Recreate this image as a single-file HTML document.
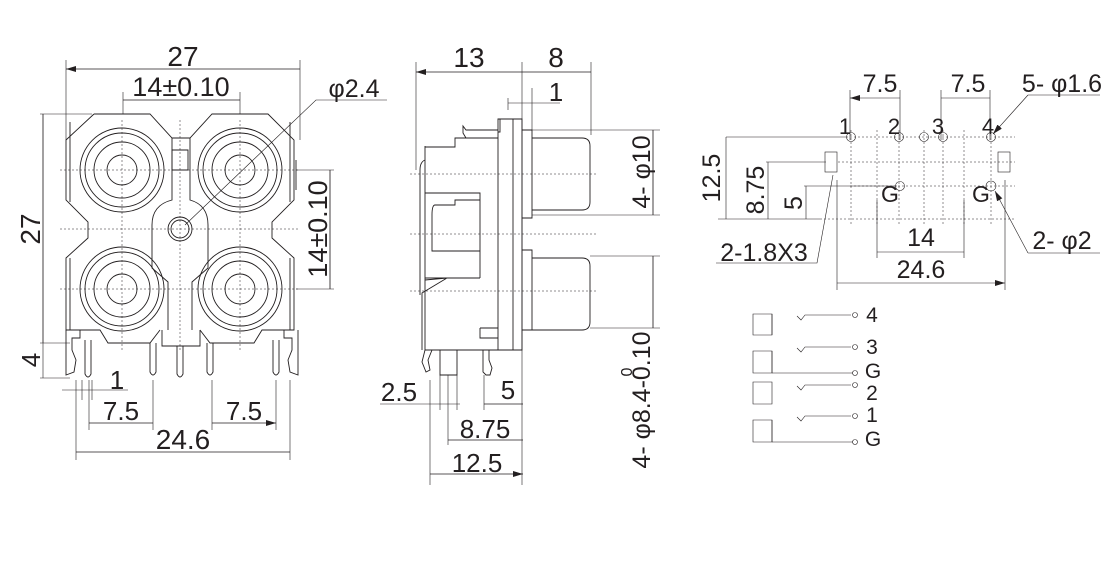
<!DOCTYPE html>
<html><head><meta charset="utf-8"><style>
html,body{margin:0;padding:0;background:#fff;}
svg{display:block;}
text{font-family:"Liberation Sans",sans-serif;fill:#231f20;}
</style></head><body>
<svg width="1120" height="582" viewBox="0 0 1120 582" xmlns="http://www.w3.org/2000/svg">
<defs>
<marker id="a" viewBox="0 0 10 6" refX="10" refY="3" markerWidth="10" markerHeight="6" orient="auto-start-reverse" markerUnits="userSpaceOnUse"><path d="M0,0 L10,3 L0,6z" fill="#231f20"/></marker>
</defs>
<g fill="none" stroke="#231f20" stroke-width="0.9">
<path d="M66,60 V140 M300,60 V140 M123,92 V114 M240,92 V114 M40,114 H92 M40,343 H70 M40,378 H70 M296,170 H334 M296,289 H334 M76,380 V460 M290,380 V460 M89,380 V430 M153,380 V430 M212,380 V430 M276,380 V430 M82,380 V400 M92,380 V400" stroke-width="0.6"/>
<path d="M66,69 H300 M123,100 H240 M43,114 V343 M43,343 V378 M330,170 V289 M62,390 H128 M89,423 H153 M212,423 H276 M76,452 H290" stroke-width="0.6"/>
<path d="M387,100 H316 L185,225" stroke-width="0.6"/>
<g stroke-dasharray="2,2" stroke-width="0.5">
<path d="M60,170 H300 M60,229 H300 M60,289 H300 M122,120 V350 M240,120 V350 M180,120 V350"/>
</g>
<path d="M94,114 H150 L172,138 H190 L212,114 H268 L294,140 V200 L272,222 V238 L294,258 V330 L283,330 M94,114 L66,140 V200 L88,222 V238 L66,258 V330 L80,330 M80,330 H100 L108,343 H150 L160,330 M200,330 L210,343 H254 L262,330 H283"/>
<path d="M70,122 V202 M290,122 V202 M70,258 V330 M290,258 V330 M296,160 V190"/>
<path d="M172,138 V200 Q152,205 152,225 V268 L168,282 V330 M190,138 V200 Q208,205 208,225 V268 L192,282 V330 M162,330 V346 H200 V330"/>
<path d="M172,150 H188 V170 H172z"/>
<circle cx="180" cy="229" r="12"/><circle cx="180" cy="229" r="9"/>
<g>
<circle cx="122" cy="170" r="42"/><circle cx="122" cy="170" r="37"/><circle cx="122" cy="170" r="28"/><circle cx="122" cy="170" r="15"/>
<circle cx="240" cy="170" r="42"/><circle cx="240" cy="170" r="37"/><circle cx="240" cy="170" r="28"/><circle cx="240" cy="170" r="15"/>
<circle cx="122" cy="289" r="42"/><circle cx="122" cy="289" r="37"/><circle cx="122" cy="289" r="28"/><circle cx="122" cy="289" r="15"/>
<circle cx="240" cy="289" r="42"/><circle cx="240" cy="289" r="37"/><circle cx="240" cy="289" r="28"/><circle cx="240" cy="289" r="15"/>
</g>
<path d="M85,340 V374 Q88,380 91,374 V340 M150,343 V372 Q153,378 156,372 V343 M177,346 V374 Q180,380 183,374 V346 M207,343 V372 Q210,378 213,372 V343 M273,340 V372 Q276,378 279,372 V340"/>
<path d="M66,330 V375 L74,372 L76,360 L72,350 V338 H80 V330 M298,330 V375 L290,372 L288,360 L292,350 V338 H284 V330"/>
</g>
<g fill="#231f20">
<text x="183" y="66" font-size="28" text-anchor="middle">27</text>
<text x="181" y="96" font-size="27" text-anchor="middle">14±0.10</text>
<text x="354" y="97" font-size="25" text-anchor="middle">φ2.4</text>
<text transform="translate(40,229) rotate(-90)" font-size="28" text-anchor="middle">27</text>
<text transform="translate(40,360) rotate(-90)" font-size="26" text-anchor="middle">4</text>
<text transform="translate(327,229) rotate(-90)" font-size="27" text-anchor="middle">14±0.10</text>
<text x="117" y="389" font-size="26" text-anchor="middle">1</text>
<text x="121" y="420" font-size="26" text-anchor="middle">7.5</text>
<text x="244" y="420" font-size="26" text-anchor="middle">7.5</text>
<text x="183" y="449" font-size="28" text-anchor="middle">24.6</text>
</g>
<g stroke="#231f20" stroke-width="0.6" fill="none">
<path d="M66,69 H300 M123,100 H240 M43,114 V343 M330,170 V289 M76,452 H290 M89,423 H153 M212,423 H276" marker-start="url(#a)" marker-end="url(#a)"/>
</g>

<g fill="none" stroke="#231f20" stroke-width="0.9">
<path d="M416,62 V170 M522,62 V485 M591,62 V135 M532,88 V130 M508,98 V110 M532,130 H660 M532,215 H660 M590,256 H660 M590,328 H660 M430,380 V485 M448,375 V445 M484,375 V410 M440,375 V410 M457,375 V410" stroke-width="0.6"/>
<path d="M416,72 H591 M508,103 H560 M653,130 V215 M653,256 V328 M380,404 H460 M484,404 H523 M448,440 H523 M430,474 H523" stroke-width="0.6"/>
<g stroke-dasharray="2,2" stroke-width="0.5"><path d="M410,174 H596 M410,234 H596 M410,291 H596"/></g>
<path d="M498,119 H513 V350 H498z M513,119 H522 V350 H513 M500,119 V132 H498 M513,138 V350"/>
<path d="M522,130 H532 V218 H522 M522,250 H532 V330 H522"/>
<path d="M532,138 H582 Q590,138 590,146 V202 Q590,210 582,210 H532 M532,258 H582 Q590,258 590,266 V322 Q590,330 582,330 H532"/>
<path d="M498,130 H466 L463,126 V133 L466,138 H498 M498,138 H455 V147 H425 V350 H498 M425,146 V160 Q420,162 420,170 V295 M425,193 H480 V278 M480,200 H455 V205 H435 Q432,205 432,215 V251 H480 M425,278 H480 M425,280 L447,278 L422,293 V350 M480,328 H498 M480,328 V338 H498"/>
<path d="M440,350 V375 H457 V350 M483,350 V372 L486,375 H490 L492,368 L489,360 V350 M425,350 L422,362 L426,372 L430,370 L428,360 L432,350"/>
</g>
<g fill="#231f20">
<text x="469" y="67" font-size="28" text-anchor="middle">13</text>
<text x="556" y="67" font-size="28" text-anchor="middle">8</text>
<text x="556" y="101" font-size="26" text-anchor="middle">1</text>
<text transform="translate(650,172) rotate(-90)" font-size="25" text-anchor="middle">4- φ10</text>
<text transform="translate(650,400) rotate(-90)" font-size="25" text-anchor="middle">4- φ8.4-0.10</text>
<text transform="translate(632,372) rotate(-90)" font-size="16" text-anchor="middle">0</text>
<text x="399" y="401" font-size="26" text-anchor="middle">2.5</text>
<text x="508" y="399" font-size="26" text-anchor="middle">5</text>
<text x="485" y="438" font-size="26" text-anchor="middle">8.75</text>
<text x="477" y="472" font-size="26" text-anchor="middle">12.5</text>
</g>
<g stroke="#231f20" stroke-width="0.6" fill="none">
<path d="M416,72 H522 M522,72 H591 M653,130 V215 M653,256 V328 M484,404 H523 M448,440 H523 M430,474 H523" marker-start="url(#a)" marker-end="url(#a)"/>
</g>

<g fill="none" stroke="#231f20" stroke-width="0.6">
<path d="M850,90 V140 M900,90 V140 M941,90 V140 M990,90 V140 M726,137 H848 M766,162 H826 M804,186 H897 M718,219 H820 M837,180 V290 M1005,180 V290 M877,200 V258 M964,200 V258"/>
<path d="M850,98 H900 M941,98 H990 M726,137 V219 M768,162 V219 M806,186 V219 M877,252 H964 M837,283 H1005" marker-start="url(#a)" marker-end="url(#a)"/>
<g stroke-dasharray="2,2" stroke-width="0.5"><path d="M850,137 H1015 M838,162 H1015 M850,186 H1015 M820,219 H1015 M851,130 V225 M877,130 V225 M899,130 V225 M924,130 V225 M943,130 V225 M964,130 V225 M991,130 V225"/></g>
<circle cx="851" cy="137" r="4.5"/><circle cx="899" cy="137" r="4.5"/><circle cx="924" cy="137" r="4.5"/><circle cx="943" cy="137" r="4.5"/><circle cx="991" cy="137" r="4.5"/>
<circle cx="900" cy="186" r="4.5"/><circle cx="991" cy="186" r="5"/>
<rect x="825" y="152" width="12" height="20"/><rect x="998" y="152" width="12" height="20"/>
<path d="M716,263 H817 L833,175" stroke-width="0.6"/>
<path d="M1028,95 L993,134" marker-end="url(#a)"/>
<path d="M1100,95 H1028"/>
<path d="M1028,253 L995,191" marker-end="url(#a)"/>
<path d="M1100,253 H1028"/>
<path d="M753,314 H772 V335 H753z M753,351 H772 V373 H753z M753,382 H772 V404 H753z M753,420 H772 V442 H753z"/>
<path d="M772,314 V335 M772,373 H853 M772,442 H853 M772,351 V373 M772,420 V442"/>
<path d="M797,316 L801,320 L805,315 H851 M797,348 L801,352 L805,347 H851 M797,386 L801,390 L805,385 H851 M797,417 L801,421 L805,416 H851"/>
<circle cx="855" cy="315" r="2.5"/><circle cx="855" cy="347" r="2.5"/><circle cx="855" cy="373" r="2.5"/><circle cx="855" cy="385" r="2.5"/><circle cx="855" cy="416" r="2.5"/><circle cx="855" cy="442" r="2.5"/>
</g>
<g fill="#231f20">
<text x="880" y="92" font-size="25" text-anchor="middle">7.5</text>
<text x="968" y="92" font-size="25" text-anchor="middle">7.5</text>
<text x="1062" y="92" font-size="25" text-anchor="middle">5- φ1.6</text>
<text x="845" y="134" font-size="22" text-anchor="middle">1</text>
<text x="894" y="134" font-size="22" text-anchor="middle">2</text>
<text x="938" y="134" font-size="22" text-anchor="middle">3</text>
<text x="988" y="134" font-size="22" text-anchor="middle">4</text>
<text x="890" y="202" font-size="23" text-anchor="middle">G</text>
<text x="981" y="202" font-size="23" text-anchor="middle">G</text>
<text transform="translate(720,178) rotate(-90)" font-size="25" text-anchor="middle">12.5</text>
<text transform="translate(764,190) rotate(-90)" font-size="25" text-anchor="middle">8.75</text>
<text transform="translate(802,203) rotate(-90)" font-size="25" text-anchor="middle">5</text>
<text x="764" y="261" font-size="25" text-anchor="middle">2-1.8X3</text>
<text x="921" y="246" font-size="25" text-anchor="middle">14</text>
<text x="921" y="278" font-size="25" text-anchor="middle">24.6</text>
<text x="1062" y="249" font-size="25" text-anchor="middle">2- φ2</text>
<text x="872" y="322" font-size="21" text-anchor="middle">4</text>
<text x="872" y="354" font-size="21" text-anchor="middle">3</text>
<text x="873" y="378" font-size="21" text-anchor="middle">G</text>
<text x="872" y="400" font-size="21" text-anchor="middle">2</text>
<text x="872" y="422" font-size="21" text-anchor="middle">1</text>
<text x="873" y="446" font-size="21" text-anchor="middle">G</text>
</g>
</svg>
</body></html>
